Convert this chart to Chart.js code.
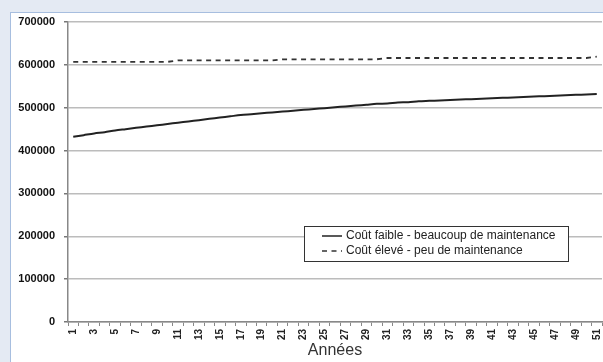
<!DOCTYPE html>
<html>
<head>
<meta charset="utf-8">
<script src="https://cdn.jsdelivr.net/npm/chart.js@4.4.1/dist/chart.umd.min.js"></script>
<style>
  body { margin: 0; background: #e4eaf3; overflow: hidden; }
  #panel { position: absolute; left: 10px; top: 12px; width: 620px; height: 400px; background: #fff; border: 1px solid #a7bedf; }
  #chart { position: absolute; left: 0; top: 0; }
</style>
</head>
<body>
<div id="panel"></div>
<canvas id="chart" width="603" height="362"></canvas>
<script>
// Années 1..51
const years = [1, 2, 3, 4, 5, 6, 7, 8, 9, 10, 11, 12, 13, 14, 15, 16, 17, 18, 19, 20,
  21, 22, 23, 24, 25, 26, 27, 28, 29, 30, 31, 32, 33, 34, 35, 36, 37, 38, 39, 40,
  41, 42, 43, 44, 45, 46, 47, 48, 49, 50, 51];

// Coût faible - beaucoup de maintenance
const coutFaible = [432000, 436000, 440000, 443000, 447000, 450000, 453000, 456000, 459000, 462000,
  465000, 468000, 471000, 474000, 477000, 480000, 483000, 485000, 487000, 489000,
  491000, 493000, 495000, 497000, 499000, 501000, 503000, 505000, 507000, 509000,
  510000, 512000, 513000, 515000, 516000, 517000, 518000, 519000, 520000, 521000,
  522000, 523000, 524000, 525000, 526000, 527000, 528000, 529000, 530000, 531000, 532000];

// Coût élevé - peu de maintenance
const coutEleve = [607000, 607000, 607000, 607000, 607000, 607000, 607000, 607000, 607000, 607000,
  610500, 610500, 610500, 610500, 610500, 610500, 610500, 610500, 610500, 610500,
  613000, 613000, 613000, 613000, 613000, 613000, 613000, 613000, 613000, 613000,
  616000, 616000, 616000, 616000, 616000, 616000, 616000, 616000, 616000, 616000,
  616000, 616000, 616000, 616000, 616000, 616000, 616000, 616000, 616000, 616000, 619000];

const seriesNames = ["Coût faible - beaucoup de maintenance", "Coût élevé - peu de maintenance"];
const yTicks = [0, 100000, 200000, 300000, 400000, 500000, 600000, 700000];

const FONT = "'Liberation Sans', Arial, sans-serif";

// legend box drawn inside the plot area, like the spreadsheet original
const boxLegend = {
  id: "boxLegend",
  afterDraw(chart) {
    const c = chart.ctx;
    const a = chart.chartArea;
    const w = 264, h = 35;
    const x = a.right - 34 - w;
    const y = a.bottom - 61 - h;
    c.save();
    c.fillStyle = "#fff";
    c.fillRect(x, y, w, h);
    c.strokeStyle = "#333";
    c.lineWidth = 1;
    c.strokeRect(x + 0.5, y + 0.5, w, h);
    c.font = "12px " + FONT;
    c.textBaseline = "middle";
    chart.data.datasets.forEach((ds, i) => {
      const ly = y + 10 + i * 15;
      c.strokeStyle = ds.borderColor;
      c.lineWidth = 1.5;
      c.setLineDash(ds.borderDash || []);
      c.beginPath();
      c.moveTo(x + 18, ly);
      c.lineTo(x + 38, ly);
      c.stroke();
      c.setLineDash([]);
      c.fillStyle = "#222";
      c.fillText(ds.label, x + 42, ly);
    });
    c.restore();
  },
};

new Chart(document.getElementById("chart"), {
  type: "line",
  data: {
    labels: years,
    datasets: [
      {
        label: seriesNames[0],
        data: coutFaible,
        borderColor: "#222",
        borderWidth: 2,
        pointRadius: 0,
        tension: 0.3,
      },
      {
        label: seriesNames[1],
        data: coutEleve,
        borderColor: "#333",
        borderWidth: 1.8,
        borderDash: [5, 4.5],
        pointRadius: 0,
        tension: 0,
      },
    ],
  },
  options: {
    responsive: false,
    animation: false,
    devicePixelRatio: 1,
    layout: { padding: { left: 10, top: 22, right: 1, bottom: 2 } },
    plugins: {
      legend: { display: false },
      tooltip: { enabled: false },
    },
    scales: {
      x: {
        offset: true,
        afterFit: (s) => {
          s.height = 38;
          s.paddingLeft = 0;
          s.paddingRight = 0;
        },
        grid: {
          offset: true,
          drawOnChartArea: false,
          drawTicks: true,
          tickLength: 4,
          color: "#888",
        },
        border: { color: "#888", width: 1.5 },
        ticks: {
          autoSkip: false,
          minRotation: 90,
          maxRotation: 90,
          padding: 3,
          color: "#222",
          font: { family: FONT, size: 10, weight: "bold" },
          callback: function (v, i) {
            return i % 2 === 0 ? String(years[i]) : "";
          },
        },
        title: {
          display: true,
          text: "Années",
          color: "#333",
          padding: { top: 0, bottom: 0 },
          font: { family: FONT, size: 16 },
        },
      },
      y: {
        min: 0,
        max: 700000,
        afterBuildTicks: (s) => {
          s.ticks = yTicks.map((v) => ({ value: v }));
        },
        afterFit: (s) => {
          s.width = 58;
          s.paddingTop = 0;
          s.paddingBottom = 0;
        },
        grid: {
          color: "#bcbcbc",
          lineWidth: 1.5,
          tickLength: 4,
          tickColor: "#777",
        },
        border: { color: "#888", width: 1.5 },
        ticks: {
          padding: 9,
          color: "#111",
          font: { family: FONT, size: 11, weight: "bold" },
          callback: (v) => String(v),
        },
      },
    },
  },
  plugins: [boxLegend],
});
</script>
</body>
</html>
